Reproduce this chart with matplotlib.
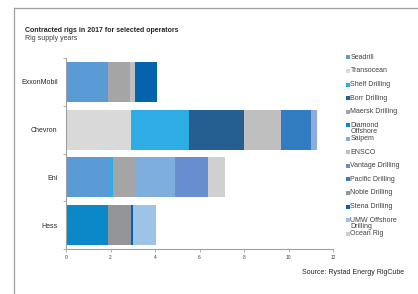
import matplotlib
matplotlib.use("Agg")
import matplotlib.pyplot as plt
from matplotlib.patches import Rectangle
from matplotlib.lines import Line2D
import numpy as np

plt.rcParams['font.family'] = ['Liberation Sans', 'DejaVu Sans']

operators = ["ExxonMobil", "Chevron", "Eni", "Hess"]
series_names = ["Seadrill", "Transocean", "Shelf Drilling", "Borr Drilling", "Maersk Drilling",
                "Diamond\nOffshore", "Saipem", "ENSCO", "Vantage Drilling", "Pacific Drilling",
                "Noble Drilling", "Stena Drilling", "UMW Offshore\nDrilling", "Ocean Rig", ""]
seadrill   = [1.90, 0.00, 1.98, 0.00]
transocean = [0.00, 2.90, 0.00, 0.00]
shelf      = [0.00, 2.62, 0.12, 0.00]
borr       = [0.00, 2.48, 0.00, 0.00]
maersk     = [0.98, 0.00, 1.00, 0.00]
diamond    = [0.00, 0.00, 0.00, 1.90]
saipem     = [0.00, 0.00, 1.80, 0.00]
ensco      = [0.22, 1.65, 0.00, 0.00]
vantage    = [0.00, 0.00, 1.48, 0.00]
pacific    = [0.00, 1.35, 0.00, 0.00]
noble      = [0.00, 0.00, 0.00, 1.00]
stena      = [0.97, 0.00, 0.00, 0.10]
umw        = [0.00, 0.00, 0.00, 1.03]
ocean_rig  = [0.00, 0.00, 0.75, 0.00]
other      = [0.00, 0.30, 0.00, 0.00]
series_values = [seadrill, transocean, shelf, borr, maersk, diamond, saipem, ensco,
                 vantage, pacific, noble, stena, umw, ocean_rig, other]
colors = ["#5B9BD5", "#D9D9D9", "#2EADE5", "#255E91", "#A5A5A5", "#0A88C8", "#7DAEDC",
          "#BFBFBF", "#698ED0", "#327DC2", "#939598", "#0563AE", "#9DC3E6", "#D0D0D0", "#8FAADC"]
xticks = [0, 2, 4, 6, 8, 10, 12]

fig = plt.figure(figsize=(4.18, 2.94), dpi=100)
fig.patch.set_facecolor("white")

# frame lines (top and left)
fig.add_artist(Line2D([14/418, 14/418], [0, 1 - 8/294], transform=fig.transFigure, color="#A0A0A0", lw=0.9))
fig.add_artist(Line2D([14/418, 1], [1 - 8/294, 1 - 8/294], transform=fig.transFigure, color="#A0A0A0", lw=0.9))

ax = fig.add_axes([66/418, 1 - 249/294, 267/418, (249 - 58)/294])
y = np.arange(len(operators))
left = np.zeros(len(operators))
for vals, c in zip(series_values, colors):
    vals = np.array(vals)
    ax.barh(y, vals, left=left, height=0.84, color=c, edgecolor="none")
    left += vals

ax.set_ylim(3.5, -0.5)
ax.set_xlim(0, 12)
ax.set_xticks(xticks)
ax.set_xticklabels([str(t) for t in xticks], fontsize=3.5, color="#404040")
ax.set_yticks(y)
ax.set_yticklabels(operators, fontsize=5, color="#262626")
ax.set_yticks([0.5, 1.5, 2.5, -0.5, 3.5], minor=True)
ax.tick_params(axis="y", which="major", length=0, pad=6)
ax.tick_params(axis="y", which="minor", length=2.5, color="#A0A0A0", width=0.6, direction="out")
ax.tick_params(axis="x", which="major", length=2, color="#A0A0A0", width=0.6, pad=2)
for s in ["top", "right"]:
    ax.spines[s].set_visible(False)
for s in ["left", "bottom"]:
    ax.spines[s].set_color("#A0A0A0")
    ax.spines[s].set_linewidth(0.8)

# titles
fig.text(25/418, 1 - 31/294, "Contracted rigs in 2017 for selected operators", fontsize=5,
         fontweight="bold", color="#262626", va="center", ha="left")
fig.text(25/418, 1 - 38.5/294, "Rig supply years", fontsize=5, color="#404040", va="center", ha="left")

# legend (manual)
for i, (name, c) in enumerate(zip(series_names, colors)):
    if not name:
        continue
    yc = 57.5 + i * 13.55
    fig.add_artist(Rectangle((345.5/418, 1 - (yc + 2)/294), 4/418, 4/294,
                             transform=fig.transFigure, facecolor=c, edgecolor="none"))
    fig.text(350.5/418, 1 - (yc - 3.6)/294, name, fontsize=5, color="#404040",
             va="top", ha="left", linespacing=0.95)

fig.text(404/418, 1 - 272/294, "Source: Rystad Energy RigCube", fontsize=5, color="#262626",
         va="center", ha="right")

fig.savefig("out.png", dpi=100)
